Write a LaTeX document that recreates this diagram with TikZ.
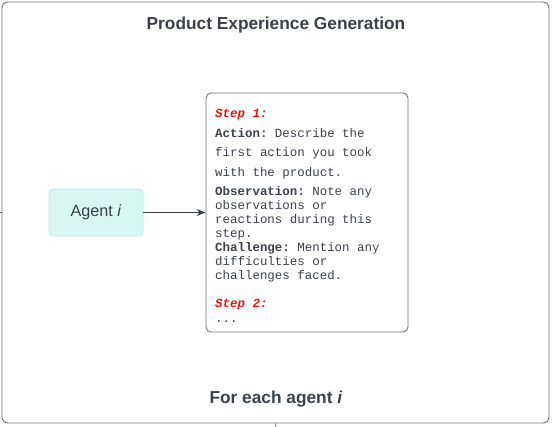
\documentclass[tikz,border=0pt]{standalone}
\usepackage{fontspec}
\setmainfont{Liberation Sans}
\setmonofont{Liberation Mono}
\usetikzlibrary{arrows.meta,positioning}

\definecolor{inkgray}{HTML}{3A414A}
\definecolor{linegray}{HTML}{6E7178}
\definecolor{agentfill}{HTML}{D7F7F2}
\definecolor{agentline}{HTML}{B5EEE6}
\definecolor{stepred}{HTML}{E81414}

\newcommand{\steplabel}[1]{\textcolor{stepred}{\bfseries\itshape #1}}

\begin{document}
\begin{tikzpicture}[
  x=1pt, y=-1pt,
  frame/.style={draw=linegray, line width=0.9pt, rounded corners=6pt,
                minimum width=547pt, minimum height=421pt, inner sep=0pt},
  agent/.style={draw=agentline, fill=agentfill, line width=0.8pt, rounded corners=4pt,
                minimum width=94pt, minimum height=47pt, font=\fontsize{16.2}{19}\selectfont,
                text=inkgray},
  stepbox/.style={draw=linegray, line width=0.9pt, rounded corners=5pt,
                  minimum width=202pt, minimum height=239pt, inner sep=0pt},
  heading/.style={font=\fontsize{17.3}{20}\selectfont\bfseries, text=inkgray},
  >={Stealth[length=9pt, width=7pt]}
]
  \useasboundingbox (0,0) rectangle (554,427);

  \node[frame]   (frame) at (275.5,212.5) {};
  \node[heading] (title) at (276,25.5)  {Product Experience Generation};
  \node[heading] (loop)  at (276,399.5) {For each agent \textit{i}};

  \node[agent]   (agent) at (96,212.5) {Agent \textit{i}};
  \node[stepbox] (steps) at (307,212.5) {};

  % what the agent writes, step by step
  \node[anchor=north west, inner sep=0pt, align=left, text=inkgray,
        font=\fontsize{12.45}{14}\selectfont\ttfamily]
      (notes) at (215,108.5) {%
    \steplabel{Step 1:}\\[6pt]
    \textbf{Action:} Describe the\\[5.5pt]
    first action you took\\[5.5pt]
    with the product.\\[5pt]
    \textbf{Observation:} Note any\\
    observations or\\
    reactions during this\\
    step.\\
    \textbf{Challenge:} Mention any\\
    difficulties or\\
    challenges faced.\\[14pt]
    \steplabel{Step 2:}\\[1pt]
    ...};

  \coordinate (inL)  at (0,212.5);
  \coordinate (outB) at (276,427);

  \draw[linegray, line width=0.8pt] (inL) -- (frame.west);
  \draw[linegray, line width=0.8pt] (frame.south) -- (outB);
  \draw[->, inkgray, line width=0.8pt] (agent) -- (steps);
\end{tikzpicture}
\end{document}
